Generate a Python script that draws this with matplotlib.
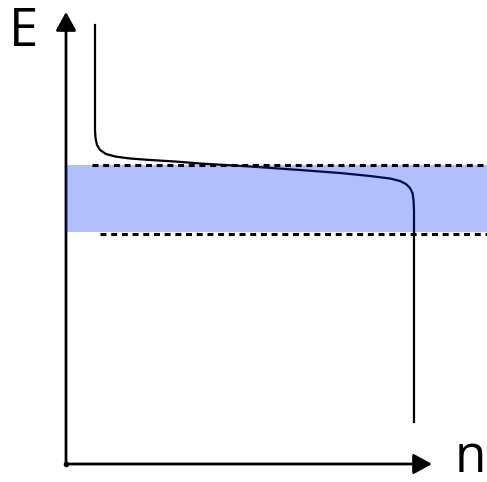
import matplotlib.pyplot as plt

plt.rcParams['font.family'] = ['Open Sans', 'DejaVu Sans']

# occupation curve: n against energy E (arbitrary units, origin at the axes corner)
curve_n = [29, 29, 29.5, 31, 34, 40, 49, 64, 84, 109, 134, 184, 234, 274, 304,
           324, 334, 340, 344, 346.5, 347.5, 348, 348]
curve_e = [439, 334, 326, 319, 314, 310, 307.5, 305.5, 304, 302.5, 300.5, 297.5,
           294, 291, 288, 285.5, 283, 280, 276, 271, 264, 254, 42]

# energy window
band_lo, band_hi = 232.5, 299.3
dot_hi_e, dot_hi_start = 299.5, 26
dot_lo_e, dot_lo_start = 230.5, 34
n_max = 421

fig = plt.figure(figsize=(4.87, 4.82), dpi=100)
ax = fig.add_axes([0, 0, 1, 1])
ax.set_xlim(-66, 421)
ax.set_ylim(-18, 464)
ax.axis('off')

# axes with arrow heads
arrow = dict(arrowstyle='-|>,head_length=0.4,head_width=0.22', mutation_scale=28,
             lw=2, color='black', shrinkA=0, shrinkB=0)
ax.annotate('', xy=(0, 452), xytext=(0, 0), arrowprops=arrow, zorder=1)
ax.annotate('', xy=(366, 0), xytext=(0, 0), arrowprops=arrow, zorder=1)
ax.plot([0], [0], 'o', color='black', ms=3, zorder=1)

ax.plot(curve_n, curve_e, color='black', lw=1.6, zorder=2,
        solid_joinstyle='round')

ax.fill_between([0, n_max], band_lo, band_hi, color=(0.0, 0.17, 0.98),
                alpha=0.3, lw=0, zorder=3)

ax.plot([dot_hi_start, n_max], [dot_hi_e, dot_hi_e], color='black', lw=2.2,
        dashes=(1.95, 1.55), zorder=4)
ax.plot([dot_lo_start, n_max], [dot_lo_e, dot_lo_e], color='black', lw=2.2,
        dashes=(1.95, 1.55), zorder=4)

ax.text(-42, 432, 'E', fontsize=38, ha='center', va='center')
ax.text(404, -8, 'n', fontsize=37, ha='center', va='baseline')

fig.savefig('out.png', dpi=100)
